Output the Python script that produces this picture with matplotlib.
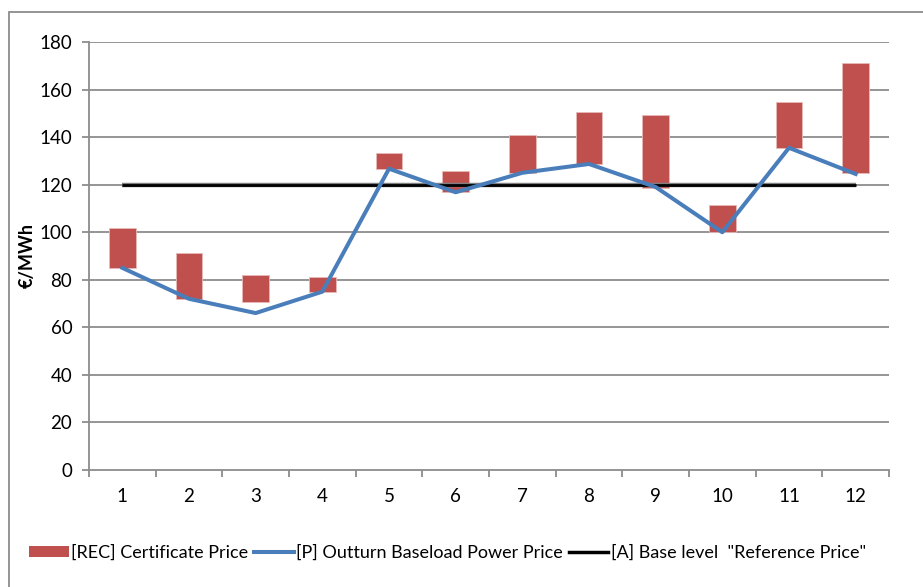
import matplotlib
matplotlib.use("Agg")
import matplotlib.pyplot as plt
from matplotlib.patches import Rectangle, Patch
from matplotlib.lines import Line2D

# data
months = [1, 2, 3, 4, 5, 6, 7, 8, 9, 10, 11, 12]
rec_bottom = [85.1, 71.8, 70.6, 74.7, 126.7, 116.8, 125.0, 128.7, 118.6, 100.0, 135.3, 124.9]
rec_top = [101.6, 91.1, 82.1, 81.3, 133.2, 125.7, 140.9, 150.4, 149.4, 111.4, 154.6, 171.0]
power_price = [85.0, 72.0, 66.0, 75.0, 126.7, 116.8, 125.0, 128.7, 119.0, 100.0, 135.5, 124.5]
base_level = [120] * 12

plt.rcParams['font.family'] = ['Lato', 'DejaVu Sans']

fig = plt.figure(figsize=(9.23, 5.87), dpi=100)
# outer chart frame (runs off the right and bottom edges)
fig.patches.append(Rectangle((9 / 923, -0.1), 1.2, (587 - 12) / 587 + 0.1,
                             transform=fig.transFigure, fill=False,
                             edgecolor='#8c8c8c', lw=1.3))

ax = fig.add_axes([89 / 923, 117 / 587, 800 / 923, 428 / 587])

grid_c = '#8c8c8c'
for v in range(20, 181, 20):
    ax.axhline(v, color=grid_c, lw=1.3, zorder=0)

heights = [t - b for t, b in zip(rec_top, rec_bottom)]
ax.bar(months, heights, bottom=rec_bottom, width=0.4, color='#C0504D',
       edgecolor='#E6B9B8', lw=0.6, zorder=2)
ax.plot(months, base_level, color='#7f7f7f', lw=3.2, zorder=3, solid_capstyle='butt')
ax.plot(months, base_level, color='black', lw=2.0, zorder=3, solid_capstyle='butt')
ax.plot(months, power_price, color='#4A7EBB', lw=2.9, zorder=4)

ax.set_xlim(0.5, 12.5)
ax.set_ylim(0, 180)
ax.set_yticks(range(0, 181, 20))
ax.set_xticks(months)
ax.set_xticks([m + 0.5 for m in range(0, 13)], minor=True)
ax.tick_params(axis='x', which='major', length=0, pad=13, labelsize=13.5)
ax.tick_params(axis='x', which='minor', length=5, color=grid_c, width=1.3)
ax.tick_params(axis='y', length=5, color=grid_c, width=1.3, pad=7, labelsize=13.5)
for s in ['top', 'right']:
    ax.spines[s].set_visible(False)
for s in ['left', 'bottom']:
    ax.spines[s].set_color(grid_c)
    ax.spines[s].set_linewidth(1.3)
ax.set_ylabel('€/MWh', fontsize=13, fontweight='bold')
ax.yaxis.set_label_coords((36 - 89) / 800, 0.5)

handles = [Patch(facecolor='#C0504D'),
           Line2D([], [], color='#4A7EBB', lw=2.9),
           Line2D([], [], color='black', lw=2.5)]
labels = ['[REC] Certificate Price', '[P] Outturn Baseload Power Price',
          '[A] Base level  "Reference Price"']
fig.legend(handles, labels, loc='center left', bbox_to_anchor=(29 / 923, 1 - 553 / 587),
           ncol=3, frameon=False, fontsize=13, handlelength=2.2, handleheight=0.6,
           handletextpad=0.15, columnspacing=0.3, borderaxespad=0, borderpad=0)

fig.savefig('out.png', dpi=100)
